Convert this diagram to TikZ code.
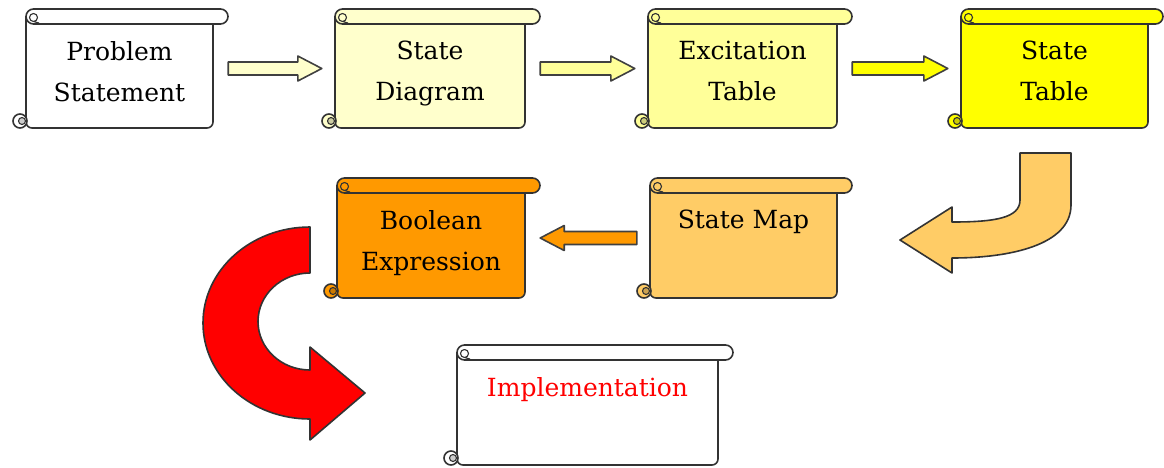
\documentclass[tikz,border=0pt]{standalone}
\usepackage{fontspec}
\setmainfont{DejaVu Serif}
\usetikzlibrary{calc,fit}

\definecolor{diagfill}{HTML}{FFFFCC}
\definecolor{excitefill}{HTML}{FFFF99}
\definecolor{tablefill}{HTML}{FFFF00}
\definecolor{mapfill}{HTML}{FFCC66}
\definecolor{exprfill}{HTML}{FF9900}

\tikzset{
  outline/.style={draw=black!80,line width=1.6pt,line join=round},
  scrolltext/.style={inner sep=0pt,align=center,font=\fontsize{25}{41}\selectfont},
  blockarr/.style={draw=black!75,line width=1.6pt,line join=round},
}

% name, left, top, right, bottom, fill, text
\newcommand{\scrollbox}[7]{%
  \draw[outline,fill=#6,rounded corners=6pt] (#2,#3+8) -- (#2,#5) -- (#4,#5) -- (#4,#3+8);
  \draw[outline,fill=#6,rounded corners=7.5pt] (#2,#3) rectangle (#4+15,#3+15);
  \draw[outline,line width=1.1pt] (#2+7.5,#3+8.5) circle[radius=4] (#2+7.5,#3+12.5) -- (#2+13,#3+14);
  \draw[outline,fill=#6] (#2-6,#5-7) circle[radius=7];
  \draw[outline,line width=1.1pt,fill=#6!80!black] (#2-4,#5-7) circle[radius=3.5];
  \node[fit={(#2-13,#3) (#4+15,#5)},inner sep=0pt] (#1) {};
  \node[scrolltext,anchor=north] (#1-txt) at ({(#2+#4)/2},#3+32) {#7};
}

% from, to, fill
\newcommand{\blockarrow}[3]{%
  \draw[blockarr,fill=#3] let \p1=(#1), \p2=(#2), \p3=($(#2)!24pt!(#1)$) in
    (\x1,\y1+6.5pt) -- (\x3,\y1+6.5pt) -- (\x3,\y1+12.5pt) -- (\x2,\y1)
    -- (\x3,\y1-12.5pt) -- (\x3,\y1-6.5pt) -- (\x1,\y1-6.5pt) -- cycle;
}

\begin{document}
\begin{tikzpicture}[x=1pt,y=-1pt]
  \useasboundingbox (0,0) rectangle (1164,467);

  \scrollbox{ps}{26}{9}{213}{128}{white}{Problem\\Statement}
  \scrollbox{sd}{335}{9}{525}{128}{diagfill}{State\\Diagram}
  \scrollbox{et}{648}{9}{837}{128}{excitefill}{Excitation\\Table}
  \scrollbox{st}{961}{9}{1148}{128}{tablefill}{State\\Table}
  \scrollbox{sm}{650}{178}{837}{298}{mapfill}{State Map}
  \scrollbox{be}{337}{178}{525}{298}{exprfill}{Boolean\\Expression}
  \scrollbox{im}{457}{345}{718}{465}{white}{\color{red}Implementation}

  \blockarrow{ps.east}{sd.west}{diagfill}
  \blockarrow{sd.east}{et.west}{excitefill}
  \blockarrow{et.east}{st.west}{tablefill}
  \blockarrow{sm.west}{be.east}{exprfill}

  % turn from the first row down to the second
  \draw[outline,fill=mapfill] (1020,153) -- (1071,153) -- (1071,205)
    .. controls (1071,245) and (1010,258) .. (952,258) -- (952,273) -- (900,240)
    -- (952,207) -- (952,222) .. controls (995,222) and (1020,218) .. (1020,200) -- cycle;

  % turn from the second row down to the last
  \draw[outline,fill=red] (310,227) arc[start angle=-90,end angle=-270,x radius=107,y radius=96]
    -- (310,440) -- (365,393) -- (310,347) -- (310,370)
    arc[start angle=90,end angle=270,x radius=52,y radius=48.5] -- cycle;
\end{tikzpicture}
\end{document}
